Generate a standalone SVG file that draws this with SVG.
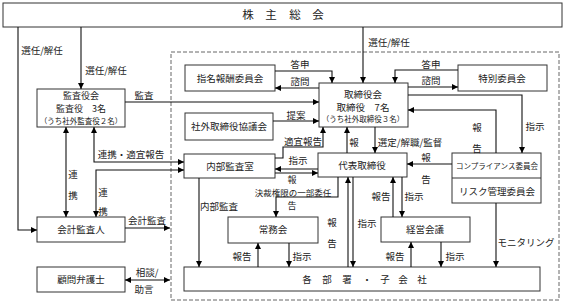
<svg xmlns="http://www.w3.org/2000/svg" width="570" height="308" viewBox="0 0 570 308">
<defs>
<marker id="a" viewBox="0 0 10 10" refX="10" refY="5" markerWidth="6" markerHeight="6" markerUnits="userSpaceOnUse" orient="auto-start-reverse"><path d="M0,0 L10,5 L0,10 z" fill="#000"/></marker>
<style>
.box{fill:#fff;stroke:#333;stroke-width:1}
.ln{fill:none;stroke:#111;stroke-width:1.1}
.ar{marker-end:url(#a)}
.ab{marker-start:url(#a);marker-end:url(#a)}
text{font-family:"Noto Sans CJK JP","Noto Sans",sans-serif;font-size:9.5px;fill:#222;text-anchor:middle}
.s{font-size:7.5px}
.m{font-size:9px}
.n{font-size:8.5px}
.b{font-size:11.5px}
</style>
</defs>
<rect width="570" height="308" fill="#fff"/>
<rect x="171" y="52" width="388" height="248" fill="none" stroke="#666" stroke-width="1" stroke-dasharray="4,2"/>

<g id="kabunushi"><rect class="box" x="3" y="3" width="559" height="24" stroke-width="1.4"/><text class="b" x="248 271 295 318" y="19">株主総会</text></g>
<g id="kansayakukai"><rect class="box" x="37" y="89" width="88" height="38"/><text class="m" x="81" y="99">監査役会</text><text class="m" x="81" y="112">監査役　3名</text><text class="s" x="81" y="123.5">（うち社外監査役２名）</text></g>
<g id="kaikei"><rect class="box" x="37" y="217" width="88" height="25"/><text x="81" y="233">会計監査人</text></g>
<g id="komon"><rect class="box" x="37" y="267" width="88" height="25"/><text x="81" y="283">顧問弁護士</text></g>
<g id="shimei"><rect class="box" x="185" y="65" width="90" height="26"/><text x="230" y="81.5">指名報酬委員会</text></g>
<g id="shagai"><rect class="box" x="185" y="113" width="88" height="27"/><text x="229" y="130">社外取締役協議会</text></g>
<g id="naibu"><rect class="box" x="184" y="154" width="91" height="24"/><text x="230" y="169.5">内部監査室</text></g>
<g id="torishimariyakukai"><rect class="box" x="319" y="83" width="89" height="44"/><text x="363" y="97.5">取締役会</text><text x="363" y="110.5">取締役　7名</text><text class="s" x="363" y="122">（うち社外取締役３名）</text></g>
<g id="tokubetsu"><rect class="box" x="458" y="65" width="89" height="26"/><text x="502" y="81.5">特別委員会</text></g>
<g id="daihyo"><rect class="box" x="318" y="153" width="89" height="24"/><text x="362" y="168.5">代表取締役</text></g>
<g id="compliance"><rect class="box" x="452" y="153" width="89" height="50"/><line x1="452" y1="178" x2="541" y2="178" stroke="#333" stroke-width="1"/><text class="s" x="497" y="169">コンプライアンス委員会</text><text x="497" y="194.5">リスク管理委員会</text></g>
<g id="jomukai"><rect class="box" x="228" y="217" width="90" height="26"/><text x="273" y="233">常務会</text></g>
<g id="keiei"><rect class="box" x="381" y="217" width="89" height="25"/><text x="425" y="233">経営会議</text></g>
<g id="kakubusho"><rect class="box" x="184" y="267" width="356" height="24"/><text x="307 327 347 367 385 403 422" y="283">各部署・子会社</text></g>

<g id="connectors">
<path class="ln ar" d="M18,27 V230 H37"/>
<path class="ln ar" d="M81,27 V89"/>
<path class="ln ar" d="M125,102 H319"/>
<path class="ln ar" d="M363,27 V83"/>
<path class="ln ar" d="M275,71 H332 V83"/>
<path class="ln ar" d="M319,88 H275"/>
<path class="ln ar" d="M273,121 H319"/>
<path class="ln ar" d="M275,158 H283 V147 H323 V127"/>
<path class="ln ar" d="M318,169 H275"/>
<path class="ln ar" d="M275,173 H318"/>
<path class="ln ar" d="M338,177 V197 H276 V217"/>
<path class="ln ar" d="M199,178 V267"/>
<path class="ln ar" d="M258,267 V243"/>
<path class="ln ar" d="M289,243 V267"/>
<path class="ln ar" d="M348,267 V177"/>
<path class="ln ar" d="M353,177 V267"/>
<path class="ln ar" d="M375,127 V153"/>
<path class="ln ar" d="M347,153 V127"/>
<path class="ln ar" d="M496,153 V110 H408"/>
<path class="ln ar" d="M408,95 H522 V153"/>
<path class="ln ar" d="M452,164 H407"/>
<path class="ln ar" d="M393,217 V177"/>
<path class="ln ar" d="M402,177 V217"/>
<path class="ln ar" d="M411,267 V242"/>
<path class="ln ar" d="M441,242 V267"/>
<path class="ln ar" d="M496,203 V267"/>
<path class="ln ar" d="M458,70 H395 V83"/>
<path class="ln ar" d="M408,87 H458"/>
<path class="ln ab" d="M66,127 V217"/>
<path class="ln ab" d="M94,127 V162 H184"/>
<path class="ln ab" d="M184,170 H96 V217"/>
<path class="ln ar" d="M125,228 H170"/>
<path class="ln ab" d="M125,280 H170"/>
</g>

<g id="labels">
<text x="42" y="53.5">選任/解任</text>
<text x="106" y="73.5">選任/解任</text>
<text x="144" y="98.5">監査</text>
<text x="389" y="45.5">選任/解任</text>
<text x="300" y="68">答申</text>
<text x="300" y="85">諮問</text>
<text x="296" y="118.5">提案</text>
<text x="303" y="144.5">適宜報告</text>
<text x="298" y="163.5">指示</text>
<text class="m" x="292" y="183">報</text>
<text class="n" x="293" y="195.5">決裁権限の一部委任</text>
<text class="m" x="292" y="208.5">告</text>
<text x="219" y="209.5">内部監査</text>
<text x="242" y="259.5">報告</text>
<text x="302" y="259.5">指示</text>
<text x="332" y="225.5">報</text>
<text x="332" y="246.5">告</text>
<text x="367" y="226.5">指示</text>
<text x="410" y="145.5">選定/解職/監督</text>
<text x="354" y="145.5">報</text>
<text x="477" y="130.5">報</text>
<text x="477" y="151.5">告</text>
<text x="535" y="129.5">指示</text>
<text x="426" y="160.5">報</text>
<text x="426" y="182.5">告</text>
<text x="381" y="200">報告</text>
<text x="414" y="200">指示</text>
<text x="395" y="259.5">報告</text>
<text x="455" y="259.5">指示</text>
<text x="526" y="246">モニタリング</text>
<text x="431" y="68">答申</text>
<text x="431" y="84">諮問</text>
<text x="73" y="177.5">連</text>
<text x="73" y="198.5">携</text>
<text x="131" y="158">連携・適宜報告</text>
<text x="103" y="195.5">連</text>
<text x="103" y="215">携</text>
<text x="147" y="224">会計監査</text>
<text x="147" y="275.5">相談/</text>
<text x="144" y="292.5">助言</text>
</g>
</svg>
